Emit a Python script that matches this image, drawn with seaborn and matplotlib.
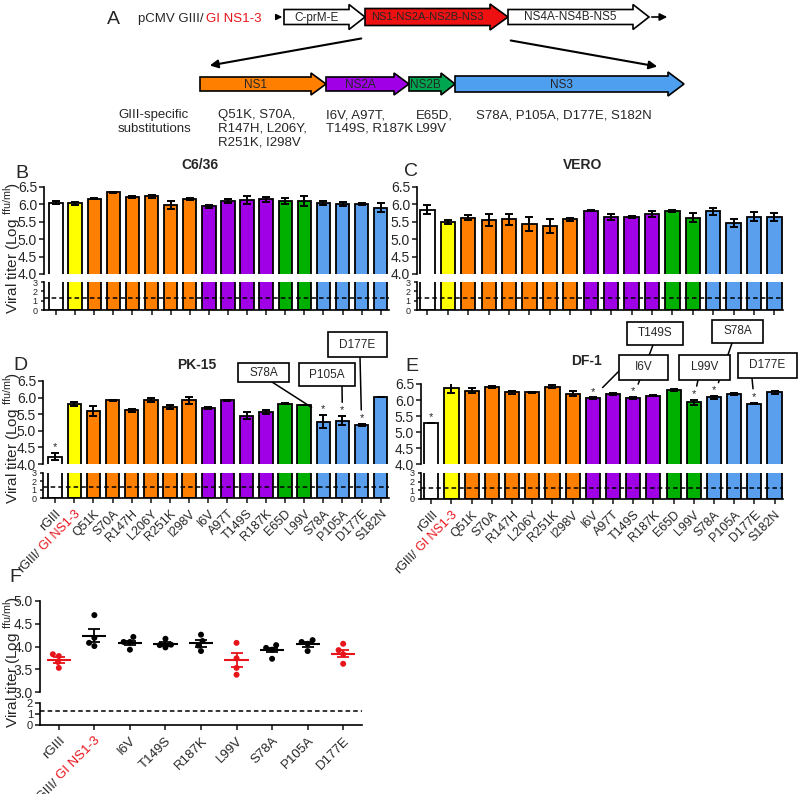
import numpy as np
import pandas as pd
import matplotlib
matplotlib.use('Agg')
import matplotlib.pyplot as plt
import seaborn as sns
from matplotlib.patches import Polygon, Rectangle, ConnectionPatch

W, H = 800, 794

# ---- data ----
labels = ['rGIII', 'rGIII/ GI NS1-3', 'Q51K', 'S70A', 'R147H', 'L206Y', 'R251K', 'I298V',
          'I6V', 'A97T', 'T149S', 'R187K', 'E65D', 'L99V', 'S78A', 'P105A', 'D177E', 'S182N']

c636_mean = [6.05, 6.03, 6.16, 6.35, 6.20, 6.23, 5.98, 6.15, 5.94, 6.10, 6.12, 6.15, 6.09, 6.09, 6.04, 6.02, 6.00, 5.91]
c636_err = [0.05, 0.05, 0.01, 0.02, 0.03, 0.04, 0.12, 0.02, 0.03, 0.06, 0.12, 0.07, 0.09, 0.15, 0.07, 0.06, 0.03, 0.13]

vero_mean = [5.85, 5.50, 5.62, 5.56, 5.57, 5.43, 5.38, 5.57, 5.82, 5.64, 5.64, 5.72, 5.82, 5.62, 5.80, 5.47, 5.64, 5.64]
vero_err = [0.12, 0.06, 0.08, 0.17, 0.15, 0.20, 0.20, 0.04, 0.02, 0.08, 0.04, 0.08, 0.03, 0.14, 0.10, 0.12, 0.13, 0.11]

pk15_mean = [4.22, 5.81, 5.60, 5.92, 5.62, 5.92, 5.73, 5.92, 5.68, 5.92, 5.46, 5.57, 5.82, 5.78, 5.28, 5.30, 5.17, 6.02]
pk15_err = [0.11, 0.05, 0.15, 0.02, 0.05, 0.06, 0.06, 0.10, 0.03, 0.02, 0.10, 0.07, 0.02, 0.01, 0.20, 0.14, 0.04, 0.01]
pk15_sig = [0, 14, 15, 16]

df1_mean = [5.28, 6.38, 6.29, 6.40, 6.24, 6.24, 6.42, 6.19, 6.05, 6.19, 6.06, 6.14, 6.32, 5.93, 6.08, 6.19, 5.89, 6.24]
df1_err = [0.01, 0.15, 0.07, 0.04, 0.04, 0.01, 0.06, 0.08, 0.03, 0.02, 0.03, 0.02, 0.03, 0.08, 0.05, 0.02, 0.03, 0.05]
df1_sig = [0, 8, 10, 13, 14, 16]

lod = 1.3  # detection limit

f_labels = ['rGIII', 'rGIII/ GI NS1-3', 'I6V', 'T149S', 'R187K', 'L99V', 'S78A', 'P105A', 'D177E']
f_points = [
    [3.83, 3.79, 3.66, 3.53],
    [4.69, 4.19, 4.08, 4.01],
    [4.21, 4.10, 4.10, 3.93],
    [4.17, 4.04, 4.03, 3.98],
    [4.26, 4.12, 4.02, 3.90],
    [4.08, 3.74, 3.53, 3.38],
    [4.03, 3.97, 3.93, 3.73],
    [4.14, 4.10, 4.06, 3.90],
    [4.06, 3.92, 3.83, 3.62],
]
f_mean = [3.70, 4.24, 4.08, 4.05, 4.07, 3.70, 3.92, 4.05, 3.84]
f_sem = [0.06, 0.15, 0.05, 0.04, 0.08, 0.15, 0.05, 0.05, 0.08]
f_reduced = [True, False, False, False, False, True, False, False, True]

# ---- style ----
RED = '#E8141B'
bar_colors = ['white', '#FFFF00'] + ['#FF7F00'] * 6 + ['#A000E6'] * 4 + ['#00B000'] * 2 + ['#5A9EEE'] * 4
palette = dict(zip(labels, bar_colors))

sns.set_style('ticks')
plt.rcParams['font.family'] = ['Liberation Sans', 'DejaVu Sans']
plt.rcParams['axes.linewidth'] = 1.2
plt.rcParams['xtick.major.width'] = 1.2
plt.rcParams['ytick.major.width'] = 1.2
plt.rcParams['xtick.major.size'] = 3.5
plt.rcParams['ytick.major.size'] = 3.5
plt.rcParams['ytick.major.pad'] = 1.5
plt.rcParams['axes.edgecolor'] = 'black'

fig = plt.figure(figsize=(8, 7.94), dpi=100)
renderer = fig.canvas.get_renderer()


def px_rect(x0, y0, x1, y1):
    return [x0 / W, 1 - y1 / H, (x1 - x0) / W, (y1 - y0) / H]


def fpx(x, y):
    return (x / W, 1 - y / H)


def text_width_pt(s, fs):
    t = fig.text(0, 0, s, fontsize=fs)
    w = t.get_window_extent(renderer).width
    t.remove()
    return w * 72 / fig.dpi


def two_colour_ticks(ax, full_labels, fs):
    shown = [lab.split(' ', 1)[1] if '/ ' in lab else lab for lab in full_labels]
    ax.set_xticks(range(len(full_labels)))
    ax.set_xticklabels(shown, rotation=45, ha='right', rotation_mode='anchor', fontsize=fs)
    pad = plt.rcParams['xtick.major.size'] + plt.rcParams['xtick.major.pad']
    for i, lab in enumerate(full_labels):
        if '/ ' not in lab:
            continue
        prefix, red_part = lab.split(' ', 1)
        ax.get_xticklabels()[i].set_color(RED)
        d = text_width_pt(red_part + ' ', fs)
        c = np.cos(np.pi / 4)
        ax.annotate(prefix, xy=(i, 0), xycoords=ax.get_xaxis_transform(),
                    xytext=(-d * c, -pad - d * c), textcoords='offset points',
                    rotation=45, ha='right', va='top', rotation_mode='anchor',
                    fontsize=fs, annotation_clip=False)


# ---- panel A: construct diagram ----
axA = fig.add_axes([0, 1 - 155 / H, 1, 155 / H])
axA.set_xlim(0, W)
axA.set_ylim(155, 0)
axA.axis('off')


def block_arrow(x0, x1, yc, h, hh, hl, fc, text, fs=8.5):
    pts = [(x0, yc - h), (x1 - hl, yc - h), (x1 - hl, yc - hh), (x1, yc),
           (x1 - hl, yc + hh), (x1 - hl, yc + h), (x0, yc + h)]
    axA.add_patch(Polygon(pts, closed=True, fc=fc, ec='black', lw=1.2))
    axA.text((x0 + x1 - hl) / 2, yc + 0.5, text, ha='center', va='center', fontsize=fs)


axA.text(113, 19, 'A', fontsize=14, ha='center', va='center')
axA.text(138, 19, 'pCMV GIII/', fontsize=9.5, ha='left', va='center')
axA.text(206, 19, 'GI NS1-3', fontsize=9.5, ha='left', va='center', color=RED)
axA.annotate('', xy=(285, 17), xytext=(273, 17),
             arrowprops=dict(arrowstyle='-|>', color='black', lw=1, mutation_scale=9))
block_arrow(284, 365, 17, 7.5, 12.5, 16, 'white', 'C-prM-E')
block_arrow(365, 508, 17, 8.5, 13, 18, '#EE1111', 'NS1-NS2A-NS2B-NS3', fs=8)
block_arrow(508, 649, 17, 7.5, 12.5, 16, 'white', 'NS4A-NS4B-NS5')
axA.annotate('', xy=(670, 17), xytext=(649, 17),
             arrowprops=dict(arrowstyle='-|>', color='black', lw=1.2, mutation_scale=11))
axA.annotate('', xy=(207, 66), xytext=(364, 38),
             arrowprops=dict(arrowstyle='-|>', color='black', lw=1.5, mutation_scale=12))
axA.annotate('', xy=(660, 67), xytext=(508, 40),
             arrowprops=dict(arrowstyle='-|>', color='black', lw=1.5, mutation_scale=12))
block_arrow(200, 326, 84, 7, 11, 15, '#FF7F00', 'NS1')
block_arrow(326, 409, 84, 7, 11, 15, '#A000E6', 'NS2A')
block_arrow(409, 455, 84, 7, 11, 14, '#00A650', 'NS2B')
block_arrow(455, 684, 84, 8, 12, 16, '#4F9FF0', 'NS3')

sub_fs = 9.5
sub_y = 109
axA.text(118, sub_y, 'GIII-specific\nsubstitutions', fontsize=sub_fs, va='top', linespacing=1.2)
axA.text(218, sub_y, 'Q51K, S70A,\nR147H, L206Y,\nR251K, I298V', fontsize=sub_fs, va='top', linespacing=1.2)
axA.text(326, sub_y, 'I6V, A97T,\nT149S, R187K', fontsize=sub_fs, va='top', linespacing=1.2)
axA.text(416, sub_y, 'E65D,\nL99V', fontsize=sub_fs, va='top', linespacing=1.2)
axA.text(476, sub_y, 'S78A, P105A, D177E, S182N', fontsize=sub_fs, va='top', linespacing=1.2)

ylabel = r'Viral titer (Log $^{\mathregular{ffu/ml}}$)'


# ---- bar panels ----
def bar_panel(top_px, bot_px, means, errs, xlim, title, title_xy, sig=(), ticklabels=False):
    ax_t = fig.add_axes(px_rect(*top_px))
    ax_b = fig.add_axes(px_rect(*bot_px))
    df = pd.DataFrame({'mut': labels, 'titer': means})
    for ax in (ax_t, ax_b):
        sns.barplot(data=df, x='mut', y='titer', hue='mut', order=labels, hue_order=labels,
                    palette=palette, legend=False, width=0.7, saturation=1,
                    edgecolor='black', linewidth=1.3, ax=ax)
        ax.set_xlim(*xlim)
        ax.set_xlabel('')
        ax.set_ylabel('')
    x = np.arange(len(labels))
    ax_t.errorbar(x, means, yerr=errs, fmt='none', ecolor='black', elinewidth=1.4,
                  capsize=3.2, capthick=1.4, zorder=4)
    for i in sig:
        ax_t.annotate('*', xy=(i, means[i] + errs[i]), xytext=(0, 0.5), textcoords='offset points',
                      ha='center', va='bottom', fontsize=8, annotation_clip=False)
    ax_t.set_ylim(4.0, 6.5)
    ax_t.set_yticks([4.0, 4.5, 5.0, 5.5, 6.0, 6.5])
    ax_t.set_yticklabels(['4.0', '4.5', '5.0', '5.5', '6.0', '6.5'], fontsize=10)
    ax_t.set_xticks([])
    sns.despine(ax=ax_t, bottom=True)
    ax_t.set_title(title, fontsize=10, fontweight='bold', x=(title_xy[0] - top_px[0]) / (top_px[2] - top_px[0]),
                   y=(top_px[3] - title_xy[1]) / (top_px[3] - top_px[1]), va='center')
    ax_b.set_ylim(0, 3)
    ax_b.set_yticks([0, 1, 2, 3])
    ax_b.set_yticklabels(['0', '1', '2', '3'], fontsize=6.5)
    ax_b.tick_params(axis='y', length=2.5, pad=2)
    ax_b.axhline(lod, ls=(0, (3, 2)), color='black', lw=1.1, zorder=5)
    sns.despine(ax=ax_b)
    if ticklabels:
        two_colour_ticks(ax_b, labels, 9)
    else:
        ax_b.set_xticks(x)
        ax_b.set_xticklabels([])
    return ax_t, ax_b


xlim_left = (-0.63, 17.43)
xlim_right = (-0.51, 17.42)

bar_panel((44, 187, 389, 274), (44, 282, 389, 310), c636_mean, c636_err, xlim_left, 'C6/36', (200, 173))
bar_panel((417, 187, 783, 274), (417, 282, 783, 310), vero_mean, vero_err, xlim_right, 'VERO', (583, 173))
axD, _ = bar_panel((43, 381, 389, 464), (43, 473, 389, 498), pk15_mean, pk15_err, xlim_left, 'PK-15',
                   (197, 373), pk15_sig, ticklabels=True)
axE, _ = bar_panel((421, 384, 783, 464), (421, 473, 783, 499), df1_mean, df1_err, xlim_right, 'DF-1',
                   (587, 369), df1_sig, ticklabels=True)

for letter, (lx, ly) in {'B': (22, 173), 'C': (411, 172), 'D': (20, 366), 'E': (412, 367), 'F': (15, 578)}.items():
    fig.text(*fpx(lx, ly), letter, fontsize=14, ha='center', va='center')
for ly in (248, 438, 662):
    fig.text(*fpx(1, ly), ylabel, fontsize=11, rotation=90, ha='left', va='center')


def callout(ax, idx, top, text, center, size, start):
    cx, cy = center
    w, h = size
    fig.add_artist(Rectangle(fpx(cx - w / 2, cy + h / 2), w / W, h / H, transform=fig.transFigure,
                             fc='white', ec='black', lw=1.2, zorder=6))
    fig.text(*fpx(cx, cy), text, ha='center', va='center', fontsize=8.5, zorder=7)
    fig.add_artist(ConnectionPatch(xyA=fpx(*start), coordsA='figure fraction', xyB=(idx, top),
                                   coordsB=ax.transData, color='black', lw=1.1, shrinkA=0, shrinkB=10,
                                   zorder=5))


for lab, center, size, start in [('S78A', (264, 372.5), (51, 19), (272, 382)),
                                 ('P105A', (327, 374.5), (56, 23), (342, 386)),
                                 ('D177E', (357.5, 344.5), (59, 25), (360, 357))]:
    i = labels.index(lab)
    callout(axD, i, pk15_mean[i] + pk15_err[i], lab, center, size, start)

for lab, center, size, start in [('T149S', (655, 333.5), (56, 23), (653, 345)),
                                 ('I6V', (643.5, 367.5), (49, 25), (622, 368)),
                                 ('S78A', (737.5, 331.5), (51, 23), (732, 343)),
                                 ('L99V', (704.5, 367.5), (51, 25), (698, 380)),
                                 ('D177E', (767.5, 365.5), (59, 25), (752, 378))]:
    i = labels.index(lab)
    callout(axE, i, df1_mean[i] + df1_err[i], lab, center, size, start)

# ---- panel F: dot plot ----
f_colors = [RED if r else 'black' for r in f_reduced]
df_f = pd.DataFrame({'group': np.repeat(f_labels, [len(p) for p in f_points]),
                     'value': np.concatenate(f_points)})
axFt = fig.add_axes(px_rect(40, 601, 362, 692))
axFb = fig.add_axes(px_rect(40, 703, 362, 725))
sns.swarmplot(data=df_f, x='group', y='value', hue='group', order=f_labels, hue_order=f_labels,
              palette=dict(zip(f_labels, f_colors)), size=4.3, legend=False, ax=axFt)
xf = np.arange(len(f_labels))
axFt.hlines(f_mean, xf - 0.34, xf + 0.34, colors=f_colors, lw=1.5, zorder=4)
for i in range(len(f_labels)):
    axFt.errorbar(xf[i], f_mean[i], yerr=f_sem[i], fmt='none', ecolor=f_colors[i],
                  elinewidth=1.3, capsize=4.5, capthick=1.3, zorder=4)
axFt.set_xlim(-0.53, 8.53)
axFt.set_ylim(3.0, 5.0)
axFt.set_yticks([3.0, 3.5, 4.0, 4.5, 5.0])
axFt.set_yticklabels(['3.0', '3.5', '4.0', '4.5', '5.0'], fontsize=10)
axFt.set_xticks([])
axFt.set_xlabel('')
axFt.set_ylabel('')
sns.despine(ax=axFt, bottom=True)

axFb.set_xlim(-0.53, 8.53)
axFb.set_ylim(0, 2)
axFb.set_yticks([0, 1, 2])
axFb.set_yticklabels(['0', '1', '2'], fontsize=8)
axFb.axhline(lod, ls=(0, (3, 2)), color='black', lw=1.1)
sns.despine(ax=axFb)
two_colour_ticks(axFb, f_labels, 9.5)

fig.savefig('out.png', dpi=100)
